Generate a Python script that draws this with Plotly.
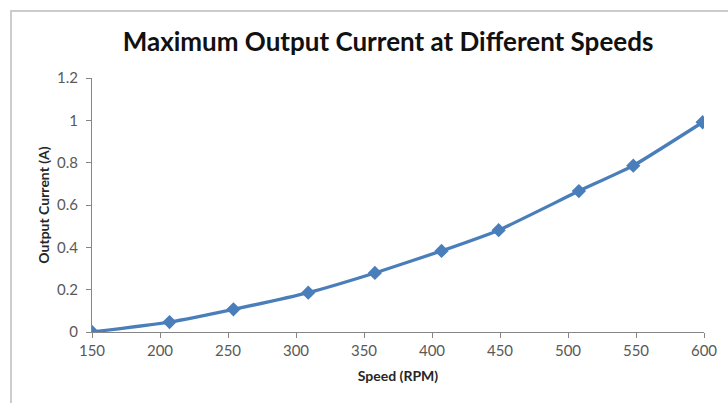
import plotly.graph_objects as go

# Measured maximum output current vs. shaft speed
speed_rpm = [150, 207, 254, 309, 358, 407, 449, 508, 548, 599]
current_a = [0.0, 0.047, 0.107, 0.186, 0.279, 0.383, 0.481, 0.666, 0.786, 0.991]

x_ticks = [150, 200, 250, 300, 350, 400, 450, 500, 550, 600]
y_ticks = [0, 0.2, 0.4, 0.6, 0.8, 1, 1.2]
y_tick_text = ["0", "0.2", "0.4", "0.6", "0.8", "1", "1.2"]

W, H = 728, 403
M_L, M_R, M_T, M_B = 92, 24, 78, 71

LINE_BLUE = "#4A7EBB"
AXIS_GREY = "#868686"
TEXT_GREY = "#595959"
FONT = "Lato, 'Open Sans', sans-serif"

fig = go.Figure()
fig.add_trace(go.Scatter(
    x=speed_rpm,
    y=current_a,
    mode="lines+markers",
    line=dict(color=LINE_BLUE, width=3.3, shape="spline", smoothing=0.4),
    marker=dict(symbol="diamond", size=11, color=LINE_BLUE),
    showlegend=False,
    hoverinfo="x+y",
))

# Chart-area frame (light grey border, running off the right and bottom)
plot_w = W - M_L - M_R
plot_h = H - M_T - M_B
frame_left = (11 - M_L) / plot_w
frame_top = (H - M_B - 11) / plot_h
fig.add_shape(
    type="rect", xref="paper", yref="paper",
    x0=frame_left, x1=1.2, y0=-0.5, y1=frame_top,
    line=dict(color="#CCCCCC", width=2),
    fillcolor="rgba(0,0,0,0)", layer="below",
)

fig.update_layout(
    width=W, height=H,
    margin=dict(l=M_L, r=M_R, t=M_T, b=M_B),
    paper_bgcolor="white",
    plot_bgcolor="white",
    title=dict(
        text="<b>Maximum Output Current at Different Speeds</b>",
        font=dict(family=FONT, size=26, color="#111111"),
        x=0.533, xanchor="center", y=0.895, yanchor="middle",
    ),
    xaxis=dict(
        range=[150, 600],
        tickmode="array", tickvals=x_ticks,
        showgrid=False, zeroline=False,
        showline=True, linecolor=AXIS_GREY, linewidth=1,
        ticks="outside", ticklen=5, tickcolor=AXIS_GREY,
        tickfont=dict(family=FONT, size=15, color=TEXT_GREY),
        title=dict(text="<b>Speed (RPM)</b>",
                   font=dict(family=FONT, size=14, color="#262626"),
                   standoff=13),
    ),
    yaxis=dict(
        range=[0, 1.2],
        tickmode="array", tickvals=y_ticks, ticktext=y_tick_text,
        showgrid=False, zeroline=False,
        showline=True, linecolor=AXIS_GREY, linewidth=1,
        ticks="outside", ticklen=5, tickcolor=AXIS_GREY,
        ticklabelstandoff=5,
        tickfont=dict(family=FONT, size=15, color=TEXT_GREY),
        title=dict(text="<b>Output Current (A)</b>",
                   font=dict(family=FONT, size=14, color="#262626"),
                   standoff=4),
    ),
)

fig.write_html("out.html")
